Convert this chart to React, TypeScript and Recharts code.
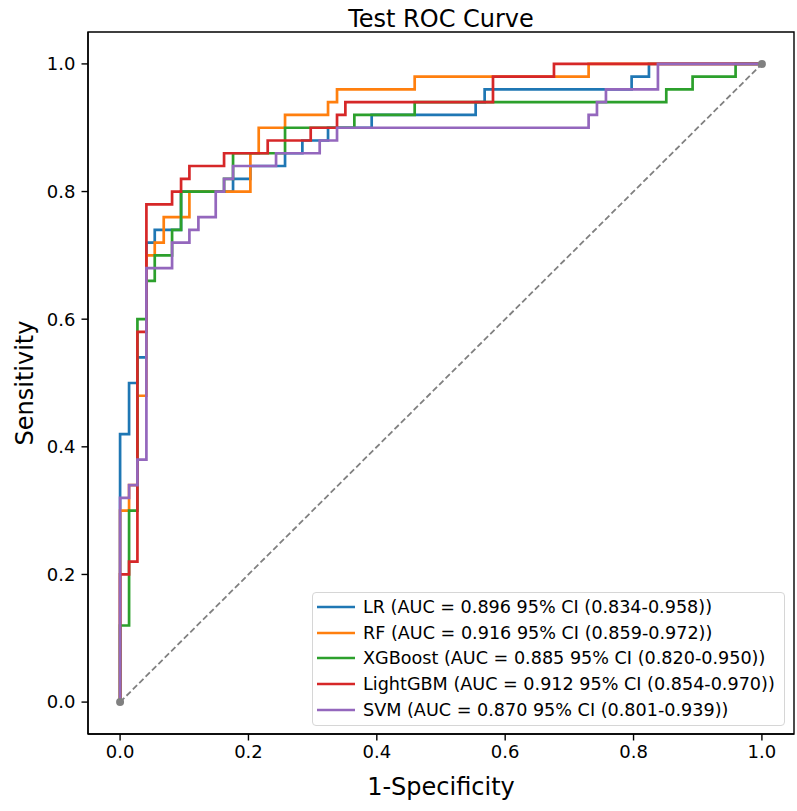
import React from 'react';
import { LineChart, Line, XAxis, YAxis, Legend, ReferenceArea } from 'recharts';

// ---- data (false positive rate / true positive rate) ----
const lrFpr = [0, 0, 0.014, 0.014, 0.027, 0.027, 0.041, 0.041, 0.054, 0.054, 0.095, 0.095, 0.176, 0.176, 0.203, 0.203, 0.257, 0.257, 0.284, 0.284, 0.324, 0.324, 0.392, 0.392, 0.554, 0.554, 0.568, 0.568, 0.797, 0.797, 0.824, 0.824, 1];
const lrTpr = [0, 0.42, 0.42, 0.5, 0.5, 0.54, 0.54, 0.72, 0.72, 0.74, 0.74, 0.8, 0.8, 0.82, 0.82, 0.84, 0.84, 0.86, 0.86, 0.88, 0.88, 0.9, 0.9, 0.92, 0.92, 0.94, 0.94, 0.96, 0.96, 0.98, 0.98, 1, 1];

const rfFpr = [0, 0, 0.014, 0.014, 0.027, 0.027, 0.041, 0.041, 0.054, 0.054, 0.068, 0.068, 0.108, 0.108, 0.203, 0.203, 0.216, 0.216, 0.257, 0.257, 0.324, 0.324, 0.338, 0.338, 0.459, 0.459, 0.73, 0.73, 1];
const rfTpr = [0, 0.3, 0.3, 0.34, 0.34, 0.48, 0.48, 0.7, 0.7, 0.72, 0.72, 0.76, 0.76, 0.8, 0.8, 0.86, 0.86, 0.9, 0.9, 0.92, 0.92, 0.94, 0.94, 0.96, 0.96, 0.98, 0.98, 1, 1];

const xgbFpr = [0, 0, 0.014, 0.014, 0.027, 0.027, 0.041, 0.041, 0.054, 0.054, 0.081, 0.081, 0.095, 0.095, 0.162, 0.162, 0.176, 0.176, 0.257, 0.257, 0.365, 0.365, 0.459, 0.459, 0.851, 0.851, 0.892, 0.892, 0.959, 0.959, 1];
const xgbTpr = [0, 0.12, 0.12, 0.3, 0.3, 0.6, 0.6, 0.66, 0.66, 0.7, 0.7, 0.74, 0.74, 0.8, 0.8, 0.82, 0.82, 0.86, 0.86, 0.9, 0.9, 0.92, 0.92, 0.94, 0.94, 0.96, 0.96, 0.98, 0.98, 1, 1];

const lgbFpr = [0, 0, 0.014, 0.014, 0.027, 0.027, 0.041, 0.041, 0.081, 0.081, 0.095, 0.095, 0.108, 0.108, 0.162, 0.162, 0.23, 0.23, 0.297, 0.297, 0.338, 0.338, 0.351, 0.351, 0.581, 0.581, 0.676, 0.676, 1];
const lgbTpr = [0, 0.2, 0.2, 0.22, 0.22, 0.58, 0.58, 0.78, 0.78, 0.8, 0.8, 0.82, 0.82, 0.84, 0.84, 0.86, 0.86, 0.88, 0.88, 0.9, 0.9, 0.92, 0.92, 0.94, 0.94, 0.98, 0.98, 1, 1];

const svmFpr = [0, 0, 0.014, 0.014, 0.027, 0.027, 0.041, 0.041, 0.081, 0.081, 0.108, 0.108, 0.122, 0.122, 0.149, 0.149, 0.162, 0.162, 0.176, 0.176, 0.243, 0.243, 0.311, 0.311, 0.338, 0.338, 0.73, 0.73, 0.743, 0.743, 0.757, 0.757, 0.838, 0.838, 1];
const svmTpr = [0, 0.32, 0.32, 0.34, 0.34, 0.38, 0.38, 0.68, 0.68, 0.72, 0.72, 0.74, 0.74, 0.76, 0.76, 0.8, 0.8, 0.82, 0.82, 0.84, 0.84, 0.86, 0.86, 0.88, 0.88, 0.9, 0.9, 0.92, 0.92, 0.94, 0.94, 0.96, 0.96, 1, 1];

const diagFpr = [0, 1];
const diagTpr = [0, 1];

const seriesNames = ['LR', 'RF', 'XGBoost', 'LightGBM', 'SVM'];
const legendLabels = [
  'LR (AUC = 0.896 95% CI (0.834-0.958))',
  'RF (AUC = 0.916 95% CI (0.859-0.972))',
  'XGBoost (AUC = 0.885 95% CI (0.820-0.950))',
  'LightGBM (AUC = 0.912 95% CI (0.854-0.970))',
  'SVM (AUC = 0.870 95% CI (0.801-0.939))',
];
const seriesColors = ['#1f77b4', '#ff7f0e', '#2ca02c', '#d62728', '#9467bd'];
const axisTicks = [0, 0.2, 0.4, 0.6, 0.8, 1.0];

const zip = (xs: number[], ys: number[]) => xs.map((x, i) => ({ fpr: x, tpr: ys[i] }));
const seriesData = [
  zip(lrFpr, lrTpr),
  zip(rfFpr, rfTpr),
  zip(xgbFpr, xgbTpr),
  zip(lgbFpr, lgbTpr),
  zip(svmFpr, svmTpr),
];
const diagData = zip(diagFpr, diagTpr);

const FONT = "'DejaVu Sans', sans-serif";

const renderLegend = () => (
  <div
    style={{
      width: '100%',
      height: '100%',
      boxSizing: 'border-box',
      border: '1px solid #d6d6d6',
      borderRadius: 4,
      background: '#ffffff',
      paddingTop: 1,
      fontFamily: FONT,
      fontSize: 17.6,
      color: '#000',
    }}
  >
    {legendLabels.map((lab, i) => (
      <div key={seriesNames[i]} style={{ height: 25.8, display: 'flex', alignItems: 'center' }}>
        <svg width={50} height={10} style={{ flex: 'none' }}>
          <line x1={4} y1={5} x2={42} y2={5} stroke={seriesColors[i]} strokeWidth={2.7} />
        </svg>
        <span style={{ whiteSpace: 'nowrap' }}>{lab}</span>
      </div>
    ))}
  </div>
);

export default function App() {
  return (
    <div style={{ position: 'absolute', left: 0, top: 0, width: 797, height: 811, background: '#fff' }}>
      <div
        style={{
          position: 'absolute',
          left: 88,
          width: 706,
          top: 5,
          textAlign: 'center',
          fontFamily: FONT,
          fontSize: 24,
          lineHeight: '28px',
          color: '#000',
        }}
      >
        Test ROC Curve
      </div>
      <LineChart width={797} height={811} margin={{ top: 32, right: 3, left: 0, bottom: 0 }}>
        <XAxis
          type="number"
          dataKey="fpr"
          domain={[-0.05, 1.05]}
          ticks={axisTicks}
          allowDataOverflow
          height={77}
          tickSize={6.5}
          tickMargin={5}
          tickFormatter={(v: number) => v.toFixed(1)}
          tick={{ fill: '#000', fontSize: 18, fontFamily: FONT }}
          axisLine={{ stroke: '#000', strokeWidth: 1.4 }}
          tickLine={{ stroke: '#000', strokeWidth: 1.4 }}
          label={{
            content: () => (
              <text x={441} y={795} textAnchor="middle" fontFamily={FONT} fontSize={24} fill="#000">
                1-Specificity
              </text>
            ),
          }}
        />
        <YAxis
          type="number"
          domain={[-0.05, 1.05]}
          ticks={axisTicks}
          allowDataOverflow
          width={88}
          tickSize={6.5}
          tickMargin={6}
          tickFormatter={(v: number) => v.toFixed(1)}
          tick={{ fill: '#000', fontSize: 18, fontFamily: FONT }}
          axisLine={{ stroke: '#000', strokeWidth: 1.4 }}
          tickLine={{ stroke: '#000', strokeWidth: 1.4 }}
          label={{
            content: () => (
              <text
                x={33}
                y={383}
                transform="rotate(-90, 33, 383)"
                textAnchor="middle"
                fontFamily={FONT}
                fontSize={24}
                fill="#000"
              >
                Sensitivity
              </text>
            ),
          }}
        />
        <ReferenceArea
          x1={-0.05}
          x2={1.05}
          y1={-0.05}
          y2={1.05}
          fill="none"
          stroke="#000"
          strokeWidth={1.4}
          ifOverflow="visible"
        />
        {seriesData.map((d, i) => (
          <Line
            key={seriesNames[i]}
            data={d}
            dataKey="tpr"
            name={legendLabels[i]}
            type="linear"
            stroke={seriesColors[i]}
            strokeWidth={2.7}
            dot={false}
            activeDot={false}
            isAnimationActive={false}
          />
        ))}
        <Line
          data={diagData}
          dataKey="tpr"
          type="linear"
          stroke="#808080"
          strokeWidth={1.8}
          strokeDasharray="6 3"
          dot={{ r: 4, fill: '#808080', stroke: 'none' }}
          activeDot={false}
          legendType="none"
          isAnimationActive={false}
        />
        <Legend
          layout="horizontal"
          verticalAlign="middle"
          align="center"
          content={renderLegend}
          wrapperStyle={{ position: 'absolute', left: 312, top: 592, width: 473, height: 134 }}
        />
      </LineChart>
    </div>
  );
}
